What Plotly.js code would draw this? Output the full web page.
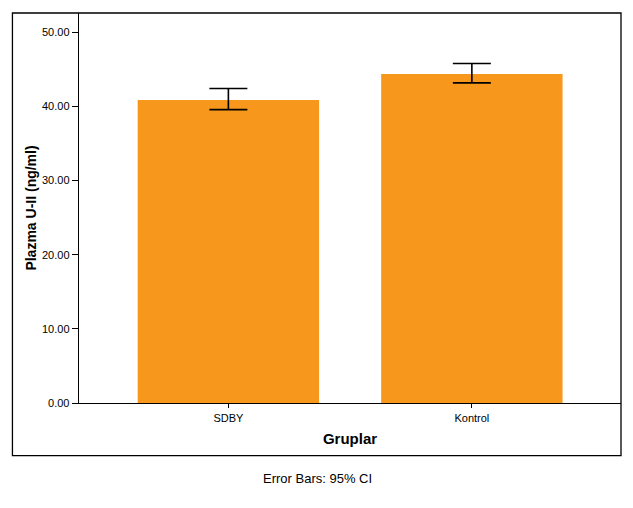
<!DOCTYPE html>
<html>
<head>
<meta charset="utf-8">
<script src="https://cdn.plot.ly/plotly-3.0.1.min.js"></script>
<style>
  html, body { margin: 0; padding: 0; background: #fff; }
  #chart { width: 633px; height: 508px; }
</style>
</head>
<body>
<div id="chart"></div>
<script>
// group names and mean plasma U-II values
const groups = ['SDBY', 'Kontrol'];
const means = [40.88, 44.38];
// 95% CI: distance above and below the mean
const ciUpper = [1.53, 1.40];
const ciLower = [1.31, 1.21];

const fontFamily = 'Arial, "Liberation Sans", sans-serif';

const data = [{
    x: groups,
    y: means,
    type: 'bar',
    width: 0.745,
    marker: { color: '#F7981D' },
    error_y: {
        type: 'data',
        symmetric: false,
        array: ciUpper,
        arrayminus: ciLower,
        color: '#000',
        thickness: 1.6,
        width: 19
    },
    hoverinfo: 'none'
}];

const layout = {
    width: 633,
    height: 508,
    margin: { l: 79, r: 12, t: 13, b: 105 },
    paper_bgcolor: '#fff',
    plot_bgcolor: '#fff',
    showlegend: false,
    font: { family: fontFamily, color: '#000', size: 11 },
    xaxis: {
        type: 'category',
        range: [-0.6135, 1.6125],
        showline: true,
        linecolor: '#000',
        linewidth: 1.3,
        ticks: 'outside',
        ticklen: 4,
        tickcolor: '#000',
        showgrid: false,
        zeroline: false,
        tickfont: { size: 11 },
        title: { text: 'Gruplar', font: { size: 15, weight: 'bold' }, standoff: 11 }
    },
    yaxis: {
        range: [0, 52.6],
        tickvals: [0, 10, 20, 30, 40, 50],
        ticktext: ['0.00', '10.00', '20.00', '30.00', '40.00', '50.00'],
        showline: true,
        linecolor: '#000',
        linewidth: 1.3,
        ticks: 'outside',
        ticklen: 6,
        tickcolor: '#000',
        showgrid: false,
        zeroline: false,
        tickfont: { size: 11 },
        title: { text: 'Plazma U-II (ng/ml)', font: { size: 14, weight: 'bold' }, standoff: 2 }
    },
    shapes: [{
        type: 'rect',
        xref: 'paper', yref: 'paper',
        x0: -0.1228, x1: 1,
        y0: -0.135, y1: 1,
        line: { color: '#000', width: 1.3 },
        fillcolor: 'rgba(0,0,0,0)'
    }],
    annotations: [{
        text: 'Error Bars: 95% CI',
        xref: 'paper', yref: 'paper',
        x: (317 - 79) / 542, y: (403.3 - 479) / 390.3,
        xanchor: 'center', yanchor: 'middle',
        showarrow: false,
        font: { size: 13 }
    }]
};

Plotly.newPlot('chart', data, layout, { displayModeBar: false, staticPlot: true });
</script>
</body>
</html>
